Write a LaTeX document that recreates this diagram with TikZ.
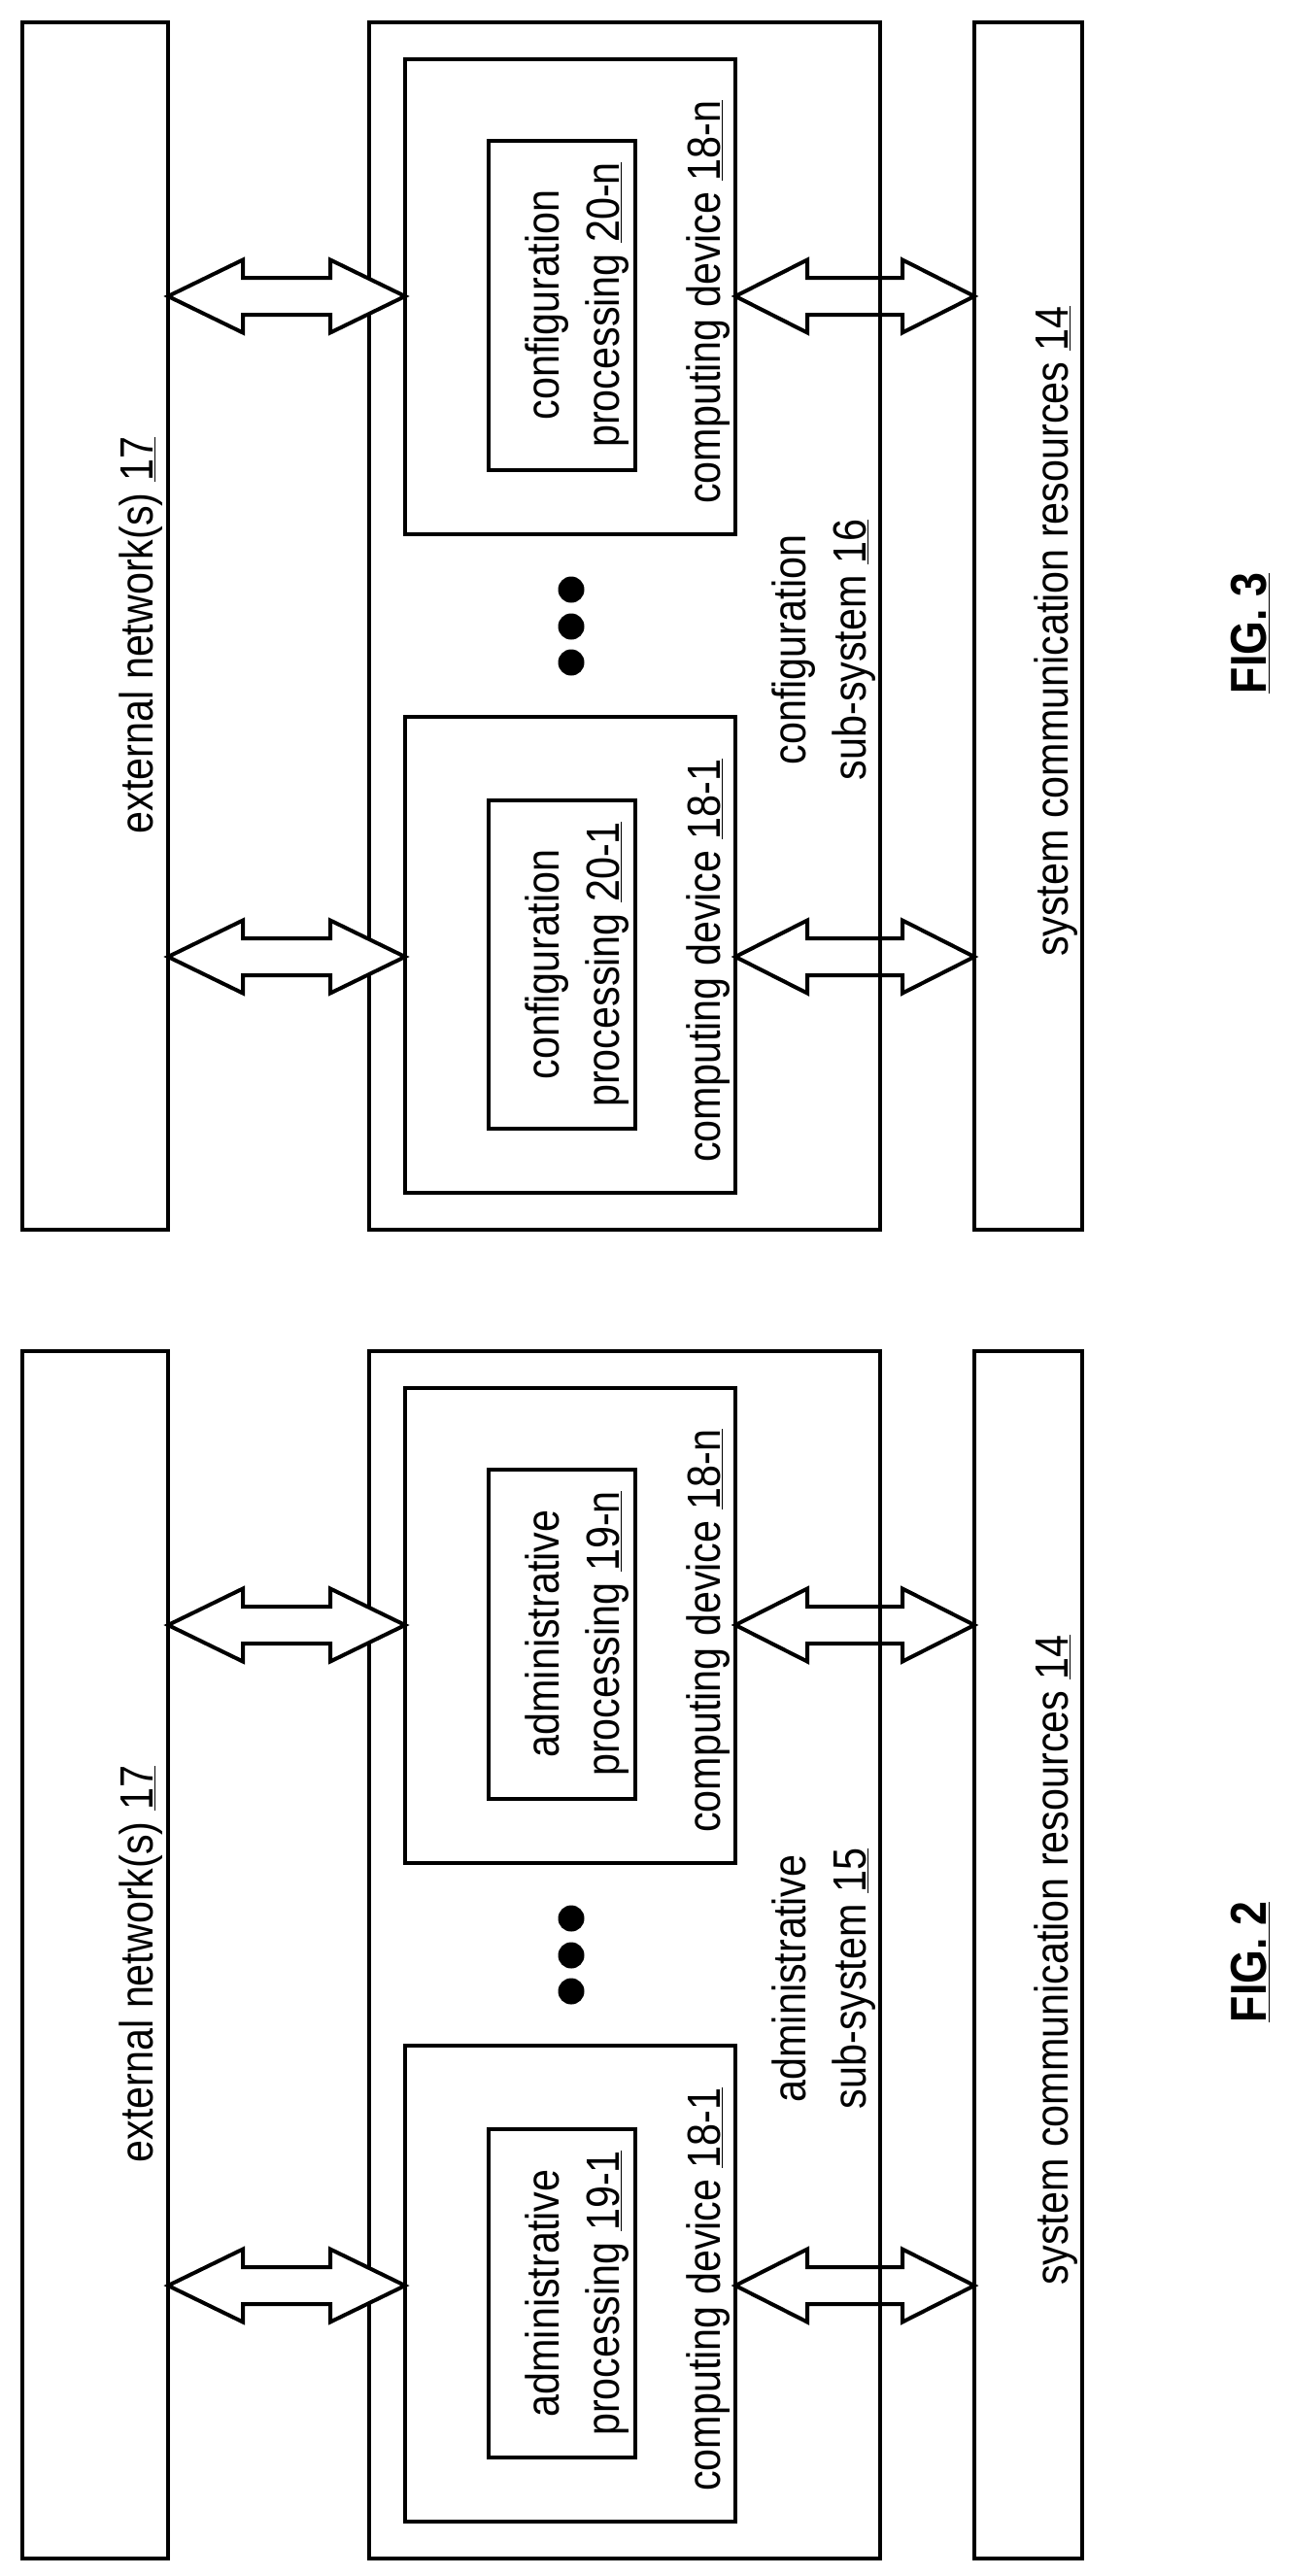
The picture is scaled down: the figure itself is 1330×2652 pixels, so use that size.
\documentclass[tikz,border=0pt]{standalone}
\usepackage{fontspec}
\setmainfont{Liberation Sans}[FakeStretch=0.86]
\begin{document}
\begin{tikzpicture}[x=1pt,y=-1pt,line width=4pt,
  box/.style={draw,line join=miter},
  lbl/.style={rotate=90,align=center,font=\fontsize{48}{62}\selectfont,inner sep=0pt},
  dot/.style={fill,circle,minimum size=27pt,inner sep=0pt}]
\useasboundingbox (0,0) rectangle (1330,2652);
\newcommand\dblarr[5]{% x1 x2 y headlength fill
  \filldraw[fill=#5,line join=miter] (#1,#3) -- (#1+#4,#3-37.5) -- (#1+#4,#3-19) -- (#2-#4,#3-19) -- (#2-#4,#3-37.5)
   -- (#2,#3) -- (#2-#4,#3+37.5) -- (#2-#4,#3+19) -- (#1+#4,#3+19) -- (#1+#4,#3+37.5) -- cycle;}
\newcommand\onefig[7]{% shift, word, numN, num1, subnum, fignum, figname prefix
\begin{scope}[yshift=-#1pt]
  \draw[box] (23,23) rectangle (173,1266);
  \draw[box] (380,23) rectangle (906,1266);
  \draw[box] (1003,23) rectangle (1114,1266);
  \draw[box] (417,61) rectangle (757,550);
  \draw[box] (503,145) rectangle (654,484);
  \draw[box] (417,738) rectangle (757,1228);
  \draw[box] (503,824) rectangle (654,1162);
  \node[lbl] (ext#7) at (145,654) {external network(s) \underline{17}};
  \node[lbl] (pn#7) at (594,314) {#2\\processing \underline{#3}};
  \node[lbl] (p1#7) at (594,993) {#2\\processing \underline{#4}};
  \node[lbl] (cdn#7) at (729,311) {computing device \underline{18-n}};
  \node[lbl] (cd1#7) at (729,989) {computing device \underline{18-1}};
  \node[lbl] (sub#7) at (848,669) {#2\\sub-system \underline{#5}};
  \node[lbl] (scr#7) at (1087,650) {system communication resources \underline{14}};
  \node[lbl,font=\fontsize{52}{62}\bfseries] (fig#7) at (1287,652) {\underline{FIG. #6}};
  \node[dot] at (588,607) {};
  \node[dot] at (588,645) {};
  \node[dot] at (588,682) {};
  \dblarr{173}{417}{305}{77}{white}
  \dblarr{173}{417}{985}{77}{white}
  \dblarr{757}{1003}{305}{74}{white}
  \dblarr{757}{1003}{985}{74}{white}
  \draw (906,305-19) -- (906,305+19);
  \draw (906,985-19) -- (906,985+19);
\end{scope}}
\onefig{0}{configuration}{20-n}{20-1}{16}{3}{a}
\onefig{1368}{administrative}{19-n}{19-1}{15}{2}{b}
\end{tikzpicture}
\end{document}
